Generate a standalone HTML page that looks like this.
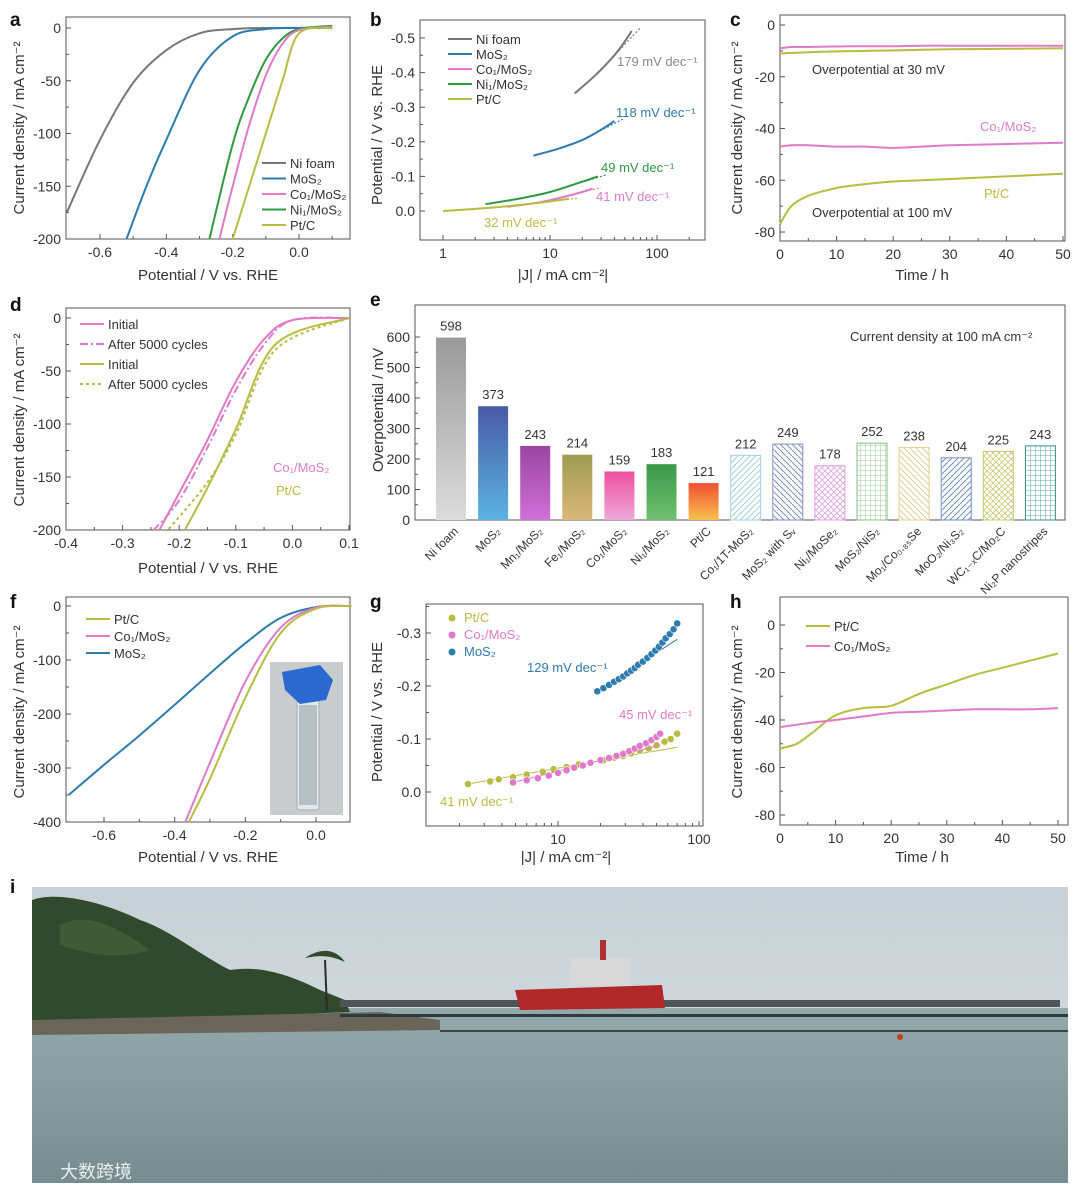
<!DOCTYPE html>
<html><head><meta charset="utf-8"><style>
html,body{margin:0;padding:0;background:#fff;}
svg{display:block;font-family:"Liberation Sans","DejaVu Sans",sans-serif;}
</style></head><body>
<svg id="fig" width="1080" height="1191" viewBox="0 0 1080 1191" xmlns="http://www.w3.org/2000/svg">
<defs>
<linearGradient id="gNi" x1="0" y1="0" x2="0" y2="1"><stop offset="0" stop-color="#9a9a9a"/><stop offset="1" stop-color="#dcdcdc"/></linearGradient>
<linearGradient id="gMo" x1="0" y1="0" x2="0" y2="1"><stop offset="0" stop-color="#4a5aa8"/><stop offset="1" stop-color="#5ab4e2"/></linearGradient>
<linearGradient id="gMn" x1="0" y1="0" x2="0" y2="1"><stop offset="0" stop-color="#9a45a0"/><stop offset="1" stop-color="#d070d8"/></linearGradient>
<linearGradient id="gFe" x1="0" y1="0" x2="0" y2="1"><stop offset="0" stop-color="#a09a50"/><stop offset="1" stop-color="#d8b878"/></linearGradient>
<linearGradient id="gCo" x1="0" y1="0" x2="0" y2="1"><stop offset="0" stop-color="#f050a0"/><stop offset="1" stop-color="#eca8d8"/></linearGradient>
<linearGradient id="gNi1" x1="0" y1="0" x2="0" y2="1"><stop offset="0" stop-color="#3a9a48"/><stop offset="1" stop-color="#70c070"/></linearGradient>
<linearGradient id="gPt" x1="0" y1="0" x2="0" y2="1"><stop offset="0" stop-color="#f05030"/><stop offset="1" stop-color="#f8c050"/></linearGradient>
<pattern id="hD1" width="6" height="6" patternUnits="userSpaceOnUse"><path d="M0,6 L6,0" stroke="#9cd0dc" stroke-width="1"/></pattern>
<pattern id="hD2" width="6" height="6" patternUnits="userSpaceOnUse"><path d="M0,0 L6,6" stroke="#8090c0" stroke-width="1"/></pattern>
<pattern id="hX1" width="6" height="6" patternUnits="userSpaceOnUse"><path d="M0,0 L6,6 M0,6 L6,0" stroke="#e0a0e0" stroke-width="0.8"/></pattern>
<pattern id="hG1" width="5" height="5" patternUnits="userSpaceOnUse"><path d="M0,0 H5 M0,0 V5" stroke="#80c080" stroke-width="0.8"/></pattern>
<pattern id="hD3" width="6" height="6" patternUnits="userSpaceOnUse"><path d="M0,0 L6,6" stroke="#e0d090" stroke-width="1"/></pattern>
<pattern id="hD4" width="6" height="6" patternUnits="userSpaceOnUse"><path d="M0,6 L6,0" stroke="#7090c0" stroke-width="1"/></pattern>
<pattern id="hX2" width="6" height="6" patternUnits="userSpaceOnUse"><path d="M0,0 L6,6 M0,6 L6,0" stroke="#c8c870" stroke-width="0.8"/></pattern>
<pattern id="hG2" width="5" height="5" patternUnits="userSpaceOnUse"><path d="M0,0 H5 M0,0 V5" stroke="#309080" stroke-width="0.8"/></pattern>
<linearGradient id="sky" x1="0" y1="0" x2="0" y2="1"><stop offset="0" stop-color="#c6d0d6"/><stop offset="1" stop-color="#dde2e4"/></linearGradient>
<linearGradient id="sea" x1="0" y1="0" x2="0" y2="1"><stop offset="0" stop-color="#93a8aa"/><stop offset="0.5" stop-color="#859c9e"/><stop offset="1" stop-color="#758d90"/></linearGradient>
</defs>
</svg>
<script>
// ---------- data arrays ----------
const aNiV=[0.1,-0.1,-0.2,-0.3,-0.4,-0.5,-0.6,-0.7];
const aNiJ=[0,0,-1,-5,-21,-52,-106,-175];
const aMoV=[0.1,0,-0.1,-0.2,-0.3,-0.4,-0.46,-0.52];
const aMoJ=[0,0,-1,-8,-40,-106,-150,-200];
const aNi1V=[0.1,0,-0.05,-0.1,-0.15,-0.2,-0.27];
const aNi1J=[2,-1,-10,-30,-65,-110,-200];
const aCoV=[0.1,0,-0.05,-0.1,-0.15,-0.2,-0.24];
const aCoJ=[1,-2,-15,-45,-92,-150,-200];
const aPtV=[0.1,0,-0.05,-0.1,-0.15,-0.2];
const aPtJ=[0,-5,-50,-100,-150,-200];
const bNiJ=[17,25,35,45,58]; const bNiE=[-0.34,-0.385,-0.43,-0.47,-0.52];
const bMoJ=[7,12,20,30,40]; const bMoE=[-0.16,-0.18,-0.205,-0.235,-0.26];
const bNi1J=[2.5,5,10,18,28]; const bNi1E=[-0.02,-0.035,-0.055,-0.08,-0.1];
const bCoJ=[4,8,14,20,25]; const bCoE=[-0.012,-0.025,-0.042,-0.055,-0.065];
const bPtJ=[1,2,4,8,15]; const bPtE=[0,-0.006,-0.014,-0.024,-0.035];
const cT=[0,2,5,10,15,20,25,30,40,50];
const cCo30=[-9,-8.5,-8.5,-8.3,-8.2,-8.2,-8,-8,-8,-8];
const cPt30=[-11,-10.8,-10.5,-10.2,-10,-9.8,-9.6,-9.4,-9.2,-9];
const cCo100=[-47,-46.5,-46.5,-47,-47,-47.5,-47,-46.5,-46,-45.5];
const cPt100=[-77,-70,-66,-63,-61.5,-60.5,-60,-59.5,-58.5,-57.5];
const dCoV=[0.1,0,-0.05,-0.1,-0.15,-0.2,-0.235];
const dCoI=[0,-2,-20,-60,-115,-165,-200];
const dCoA=[0,-2,-25,-68,-122,-172,-200];
const dCoAV=[0.1,0,-0.05,-0.1,-0.15,-0.2,-0.245];
const dPtV=[0.1,-0.03,-0.1,-0.15,-0.19];
const dPtI=[0,-25,-105,-160,-200];
const dPtAV=[0.1,-0.03,-0.1,-0.15,-0.22];
const dPtA=[0,-30,-110,-155,-200];
const eCats=["Ni foam","MoS₂","Mn₁/MoS₂","Fe₁/MoS₂","Co₁/MoS₂","Ni₁/MoS₂","Pt/C","Co₁/1T-MoS₂","MoS₂ with Sᵥ","Ni₁/MoSe₂","MoS₂/NiS₂","Mo₁/Co₀.₈₅Se","MoO₂/Ni₃S₂","WC₁₋ₓC/Mo₂C","Ni₂P nanostripes"];
const eVals=[598,373,243,214,159,183,121,212,249,178,252,238,204,225,243];
const eFill=["url(#gNi)","url(#gMo)","url(#gMn)","url(#gFe)","url(#gCo)","url(#gNi1)","url(#gPt)","url(#hD1)","url(#hD2)","url(#hX1)","url(#hG1)","url(#hD3)","url(#hD4)","url(#hX2)","url(#hG2)"];
const eStroke=["none","none","none","none","none","none","none","#a0d4e0","#8090c0","#e0a0e0","#80c080","#e0d090","#7090c0","#c8c870","#309080"];
const eTicks=[0,100,200,300,400,500,600];
const fMoV=[0.1,0,-0.1,-0.2,-0.3,-0.4,-0.5,-0.6,-0.7];
const fMoJ=[0,-2,-22,-69,-125,-183,-240,-294,-350];
const fCoV=[0.1,0,-0.1,-0.2,-0.3,-0.37];
const fCoJ=[0,-3,-40,-140,-290,-400];
const fPtV=[0.1,0,-0.1,-0.2,-0.3,-0.36];
const fPtJ=[0,-5,-50,-170,-320,-400];
const gPtJ=[2.3,3.3,3.8,4.8,6,7.8,9.3,11.5,14,17,21,25,29,33,38,44,50,57,63,70];
const gPtE=[-0.015,-0.02,-0.024,-0.028,-0.033,-0.038,-0.043,-0.047,-0.052,-0.056,-0.06,-0.065,-0.068,-0.073,-0.078,-0.082,-0.088,-0.095,-0.1,-0.11];
const gCoJ=[4.8,6,7.2,8.6,10,11.5,13,15,17,20,23,26,29,32,35,38,42,46,50,53];
const gCoE=[-0.018,-0.022,-0.026,-0.031,-0.036,-0.041,-0.046,-0.05,-0.055,-0.06,-0.064,-0.068,-0.072,-0.077,-0.082,-0.087,-0.092,-0.098,-0.104,-0.11];
const gMoJ=[19,21,23,25,27,29,31,33,35,37,40,43,46,49,52,55,58,62,66,70];
const gMoE=[-0.19,-0.196,-0.202,-0.208,-0.213,-0.218,-0.224,-0.229,-0.234,-0.24,-0.246,-0.253,-0.26,-0.267,-0.274,-0.282,-0.29,-0.298,-0.307,-0.318];
const hT=[0,3,6,10,15,20,25,30,35,40,45,50];
const hPt=[-52,-50,-45,-38,-35,-34,-29,-25,-21,-18,-15,-12];
const hCo=[-43,-42,-41,-40,-38.5,-37,-36.5,-36,-35.5,-35.5,-35.5,-35];

// ---------- helpers ----------
const NS='http://www.w3.org/2000/svg';
const svg=document.getElementById('fig');
function el(tag,attrs,parent){const e=document.createElementNS(NS,tag);for(const k in attrs)e.setAttribute(k,attrs[k]);(parent||svg).appendChild(e);return e;}
function txt(x,y,s,attrs,parent){const t=el('text',Object.assign({x:x,y:y,'font-size':14,fill:'#333'},attrs||{}),parent);t.textContent=s;return t;}
function lin(d0,d1,r0,r1){return v=>r0+(v-d0)*(r1-r0)/(d1-d0);}
function logS(d0,d1,r0,r1){return v=>r0+(Math.log10(v)-Math.log10(d0))*(r1-r0)/(Math.log10(d1)-Math.log10(d0));}
function poly(xs,ys,sx,sy,attrs,name){
const P=xs.map((x,i)=>[sx(x),sy(ys[i])]);
let d='M'+P[0][0].toFixed(1)+','+P[0][1].toFixed(1);
for(let i=0;i<P.length-1;i++){const p0=P[Math.max(0,i-1)],p1=P[i],p2=P[i+1],p3=P[Math.min(P.length-1,i+2)];
const c1=[p1[0]+(p2[0]-p0[0])/6,p1[1]+(p2[1]-p0[1])/6],c2=[p2[0]-(p3[0]-p1[0])/6,p2[1]-(p3[1]-p1[1])/6];
d+=' C'+c1[0].toFixed(1)+','+c1[1].toFixed(1)+' '+c2[0].toFixed(1)+','+c2[1].toFixed(1)+' '+p2[0].toFixed(1)+','+p2[1].toFixed(1);}
const e=el('path',Object.assign({d:d,fill:'none','stroke-width':2},attrs));


return e;}
function frame(x0,y0,x1,y1,name){const r=el('rect',{x:x0,y:y0,width:x1-x0,height:y1-y0,fill:'none',stroke:'#555','stroke-width':1});

}
function xticks(vals,labels,sx,yb,minor){vals.forEach((v,i)=>{const x=sx(v);el('line',{x1:x,x2:x,y1:yb,y2:yb-5,stroke:'#555'});txt(x,yb+18,labels[i],{'text-anchor':'middle'});});(minor||[]).forEach(v=>{const x=sx(v);el('line',{x1:x,x2:x,y1:yb,y2:yb-3,stroke:'#555'});});}
function yticks(vals,labels,sy,xl,minor){vals.forEach((v,i)=>{const y=sy(v);el('line',{x1:xl,x2:xl+5,y1:y,y2:y,stroke:'#555'});txt(xl-5,y+5,labels[i],{'text-anchor':'end'});});(minor||[]).forEach(v=>{const y=sy(v);el('line',{x1:xl,x2:xl+3,y1:y,y2:y,stroke:'#555'});});}
function ylabel(x,y,s){txt(x,y,s,{'text-anchor':'middle',transform:'rotate(-90 '+x+' '+y+')','font-size':15});}
function xlabel(x,y,s){txt(x,y,s,{'text-anchor':'middle','font-size':15});}
function plabel(x,y,s){const t=txt(x,y,s,{'font-size':19,'font-weight':'bold',fill:'#111'});

}
function legend(x,y,items,dy,marker){items.forEach((it,i)=>{const yy=y+i*dy;if(marker){el('circle',{cx:x+8,cy:yy-4,r:3.5,fill:it[1]});}else{el('line',{x1:x,x2:x+24,y1:yy-5,y2:yy-5,stroke:it[1],'stroke-width':2,'stroke-dasharray':it[2]||''});}
const t=txt(x+(marker?20:28),yy,it[0],{'font-size':13,fill:marker?it[1]:'#333'});

});}
const C={ni:'#777',mo:'#2e7bb0',co:'#e07ac8',ni1:'#2e9a40',pt:'#b8bc40'};

// ---------- panel a ----------
plabel(10,26,'a');
{const sx=lin(-0.7,0,66.8,299),sy=lin(0,-200,28,239);
frame(66,17,350,239,'panel-a-frame');
xticks([-0.6,-0.4,-0.2,0],['-0.6','-0.4','-0.2','0.0'],sx,239,[-0.5,-0.3,-0.1,0.1]);
yticks([0,-50,-100,-150,-200],['0','-50','-100','-150','-200'],sy,66,[-25,-75,-125,-175]);
xlabel(208,280,'Potential / V vs. RHE');ylabel(24,128,'Current density / mA cm⁻²');
poly(aNiV,aNiJ,sx,sy,{stroke:C.ni},'ni-foam-curve');poly(aMoV,aMoJ,sx,sy,{stroke:C.mo},'mos2-curve');
poly(aNi1V,aNi1J,sx,sy,{stroke:C.ni1},'ni1-curve');poly(aCoV,aCoJ,sx,sy,{stroke:C.co},'co1-curve');poly(aPtV,aPtJ,sx,sy,{stroke:C.pt},'ptc-curve');
legend(262,168,[['Ni foam',C.ni],['MoS₂',C.mo],['Co₁/MoS₂',C.co],['Ni₁/MoS₂',C.ni1],['Pt/C',C.pt]],15.5);}

// ---------- panel b ----------
plabel(370,26,'b');
{const sx=logS(1,10,443,550),sy=lin(0,-0.5,211,38);
frame(420,20,705,240,'panel-b-frame');
xticks([1,10,100],['1','10','100'],sx,240,[2,3,4,5,6,7,8,9,20,30,40,50,60,70,80,90,200]);
yticks([0,-0.1,-0.2,-0.3,-0.4,-0.5],['0.0','-0.1','-0.2','-0.3','-0.4','-0.5'],sy,420,[-0.05,-0.15,-0.25,-0.35,-0.45]);
xlabel(563,280,'|J| / mA cm⁻²|');ylabel(382,135,'Potential / V vs. RHE');
[[bNiJ,bNiE,C.ni,'ni'],[bMoJ,bMoE,C.mo,'mos2'],[bNi1J,bNi1E,C.ni1,'ni1'],[bCoJ,bCoE,C.co,'co1'],[bPtJ,bPtE,C.pt,'pt']].forEach(s=>{
poly(s[0],s[1],sx,sy,{stroke:s[2],'stroke-width':2},'tafel-'+s[3]);
const n=s[0].length;poly([s[0][n-3],s[0][n-1]*1.2],[s[1][n-3],s[1][n-3]+(s[1][n-1]-s[1][n-3])*1.1],sx,sy,{stroke:s[2],'stroke-width':1.2,'stroke-dasharray':'2,2'},'tafel-fit-'+s[3]);});
txt(617,66,'179 mV dec⁻¹',{fill:'#888','font-size':13});txt(616,117,'118 mV dec⁻¹',{fill:C.mo,'font-size':13});
txt(601,172,'49 mV dec⁻¹',{fill:C.ni1,'font-size':13});txt(596,201,'41 mV dec⁻¹',{fill:C.co,'font-size':13});txt(484,227,'32 mV dec⁻¹',{fill:C.pt,'font-size':13});
legend(448,44,[['Ni foam',C.ni],['MoS₂',C.mo],['Co₁/MoS₂',C.co],['Ni₁/MoS₂',C.ni1],['Pt/C',C.pt]],15);}

// ---------- panel c ----------
plabel(730,26,'c');
{const sx=lin(0,50,780,1063),sy=lin(0,-80,25,232);
frame(780,15,1065,241,'panel-c-frame');
xticks([0,10,20,30,40,50],['0','10','20','30','40','50'],sx,241,[5,15,25,35,45]);
yticks([0,-20,-40,-60,-80],['0','-20','-40','-60','-80'],sy,780,[-10,-30,-50,-70]);
xlabel(922,280,'Time / h');ylabel(742,128,'Current density / mA cm⁻²');
poly(cT,cCo30,sx,sy,{stroke:C.co},'co1-30mv');poly(cT,cPt30,sx,sy,{stroke:C.pt},'pt-30mv');
poly(cT,cCo100,sx,sy,{stroke:C.co},'co1-100mv');poly(cT,cPt100,sx,sy,{stroke:C.pt},'pt-100mv');
txt(812,74,'Overpotential at 30 mV',{'font-size':13});txt(812,217,'Overpotential at 100 mV',{'font-size':13});
txt(980,131,'Co₁/MoS₂',{fill:C.co,'font-size':13});txt(984,198,'Pt/C',{fill:C.pt,'font-size':13});}

// ---------- panel d ----------
plabel(10,311,'d');
{const sx=lin(-0.4,0.1,66,349),sy=lin(0,-200,318,530);
frame(66,308,350,530,'panel-d-frame');
xticks([-0.4,-0.3,-0.2,-0.1,0,0.1],['-0.4','-0.3','-0.2','-0.1','0.0','0.1'],sx,530,[-0.35,-0.25,-0.15,-0.05,0.05]);
yticks([0,-50,-100,-150,-200],['0','-50','-100','-150','-200'],sy,66,[-25,-75,-125,-175]);
xlabel(208,573,'Potential / V vs. RHE');ylabel(24,420,'Current density / mA cm⁻²');
poly(dCoV,dCoI,sx,sy,{stroke:C.co},'co1-initial');poly(dCoAV,dCoA,sx,sy,{stroke:C.co,'stroke-dasharray':'8,3,2,3'},'co1-after');
poly(dPtV,dPtI,sx,sy,{stroke:C.pt},'pt-initial');poly(dPtAV,dPtA,sx,sy,{stroke:C.pt,'stroke-dasharray':'3,3'},'pt-after');
legend(80,329,[['Initial',C.co],['After 5000 cycles',C.co,'8,3,2,3'],['Initial',C.pt],['After 5000 cycles',C.pt,'3,3']],20);
txt(273,472,'Co₁/MoS₂',{fill:C.co,'font-size':13});txt(276,495,'Pt/C',{fill:C.pt,'font-size':13});}

// ---------- panel e ----------
plabel(370,306,'e');
{const sy=lin(0,600,520,337);const bx=i=>451+i*42.1;
frame(415,305,1065,520,'panel-e-frame');
yticks(eTicks,eTicks.map(String),sy,415,[50,150,250,350,450,550]);
ylabel(383,410,'Overpotential / mV');
txt(850,341,'Current density at 100 mA cm⁻²',{'font-size':13});
eCats.forEach((c,i)=>{const x=bx(i),y=sy(eVals[i]);
const r=el('rect',{x:x-15,y:y,width:30,height:520-y,fill:eFill[i],stroke:eStroke[i],'stroke-width':1});


txt(x,y-7,String(eVals[i]),{'text-anchor':'middle','font-size':13});
const t=txt(x+8,532,c,{'text-anchor':'end','font-size':12,transform:'rotate(-45 '+(x+8)+' 532)'});

});}

// ---------- panel f ----------
plabel(10,608,'f');
{const sx=lin(-0.6,0,104,316),sy=lin(0,-400,606,822);
frame(66,597,350,822,'panel-f-frame');
xticks([-0.6,-0.4,-0.2,0],['-0.6','-0.4','-0.2','0.0'],sx,822,[-0.5,-0.3,-0.1]);
yticks([0,-100,-200,-300,-400],['0','-100','-200','-300','-400'],sy,66,[-50,-150,-250,-350]);
xlabel(208,862,'Potential / V vs. RHE');ylabel(24,712,'Current density / mA cm⁻²');
poly(fMoV,fMoJ,sx,sy,{stroke:C.mo},'f-mos2');poly(fCoV,fCoJ,sx,sy,{stroke:C.co},'f-co1');poly(fPtV,fPtJ,sx,sy,{stroke:C.pt},'f-pt');
legend(86,624,[['Pt/C',C.pt],['Co₁/MoS₂',C.co],['MoS₂',C.mo]],17);
const g=el('g',{});


el('rect',{x:270,y:662,width:73,height:153,fill:'#c8ccce'},g);
el('rect',{x:297,y:700,width:22,height:110,fill:'#e4e8ea',stroke:'#aab',rx:3},g);
el('rect',{x:299,y:705,width:18,height:100,fill:'#b7c0c4'},g);
el('path',{d:'M282,672 L320,665 L333,680 L326,700 L300,704 L285,690 Z',fill:'#2a6ad0'},g);}

// ---------- panel g ----------
plabel(370,608,'g');
{const sx=logS(10,100,558,699),sy=lin(0,-0.3,792,633);
frame(426,604,703,826,'panel-g-frame');
xticks([10,100],['10','100'],sx,826,[2,3,4,5,6,7,8,9,20,30,40,50,60,70,80,90]);
yticks([0,-0.1,-0.2,-0.3],['0.0','-0.1','-0.2','-0.3'],sy,426,[-0.05,-0.15,-0.25,-0.35]);
xlabel(566,862,'|J| / mA cm⁻²|');ylabel(382,712,'Potential / V vs. RHE');
[[gPtJ,gPtE,C.pt,'pt'],[gCoJ,gCoE,C.co,'co1'],[gMoJ,gMoE,C.mo,'mos2']].forEach(s=>{
poly([s[0][0],s[0][s[0].length-1]],[s[1][0],s[1][0]+(s[1][10]-s[1][0])*Math.log10(s[0][s[0].length-1]/s[0][0])/Math.log10(s[0][10]/s[0][0])],sx,sy,{stroke:s[2],'stroke-width':1},'fit-'+s[3]);
s[0].forEach((j,i)=>{const c=el('circle',{cx:sx(j),cy:sy(s[1][i]),r:3.6,fill:s[2],stroke:'#fff','stroke-width':0.6});

});});
legend(444,622,[['Pt/C',C.pt],['Co₁/MoS₂',C.co],['MoS₂',C.mo]],17,true);
txt(527,672,'129 mV dec⁻¹',{fill:C.mo,'font-size':13});txt(619,719,'45 mV dec⁻¹',{fill:C.co,'font-size':13});txt(440,806,'41 mV dec⁻¹',{fill:C.pt,'font-size':13});}

// ---------- panel h ----------
plabel(730,608,'h');
{const sx=lin(0,50,780,1058),sy=lin(0,-80,625,815);
frame(780,597,1068,825,'panel-h-frame');
xticks([0,10,20,30,40,50],['0','10','20','30','40','50'],sx,825,[5,15,25,35,45]);
yticks([0,-20,-40,-60,-80],['0','-20','-40','-60','-80'],sy,780,[-10,-30,-50,-70]);
xlabel(922,862,'Time / h');ylabel(742,712,'Current density / mA cm⁻²');
poly(hT,hPt,sx,sy,{stroke:C.pt},'h-pt');poly(hT,hCo,sx,sy,{stroke:C.co},'h-co1');
legend(806,631,[['Pt/C',C.pt],['Co₁/MoS₂',C.co]],20);}

// ---------- panel i photo ----------
plabel(10,893,'i');
{const g=el('g',{});


el('rect',{x:32,y:887,width:1036,height:296,fill:'url(#sky)'},g);
el('rect',{x:32,y:1008,width:1036,height:175,fill:'url(#sea)'},g);
el('path',{d:'M32,900 C60,890 110,905 140,920 C170,930 200,955 230,970 C260,965 290,975 320,990 L345,1000 L350,1012 L32,1025 Z',fill:'#2f4a2c'},g);
el('path',{d:'M60,925 C90,910 120,930 150,950 C120,960 90,955 60,945 Z',fill:'#3d5c36'},g);
el('path',{d:'M32,1020 L380,1012 L440,1020 L440,1030 L32,1035 Z',fill:'#6a6558'},g);
el('line',{x1:325,y1:960,x2:327,y2:1010,stroke:'#2a2a2a','stroke-width':2},g);
el('path',{d:'M305,958 C320,948 335,948 345,962 C330,955 320,955 305,958 Z',fill:'#2f4a2c'},g);
el('rect',{x:340,y:1000,width:720,height:7,fill:'#4e5558'},g);
el('path',{d:'M515,990 L662,985 L665,1008 L520,1010 Z',fill:'#b02828'},g);
el('rect',{x:570,y:958,width:60,height:28,fill:'#d8d8d8'},g);
el('rect',{x:600,y:940,width:6,height:20,fill:'#b03030'},g);
el('rect',{x:340,y:1014,width:728,height:3,fill:'#2e3a3c'},g);
el('rect',{x:440,y:1030,width:628,height:2,fill:'#3a4648'},g);
el('circle',{cx:900,cy:1037,r:3,fill:'#c04020'},g);
const w=txt(60,1178,'大数跨境',{'font-size':18,fill:'#ffffff','font-family':'"Liberation Sans","Noto Sans CJK SC",sans-serif',opacity:0.85});

}
</script>
</body></html>
